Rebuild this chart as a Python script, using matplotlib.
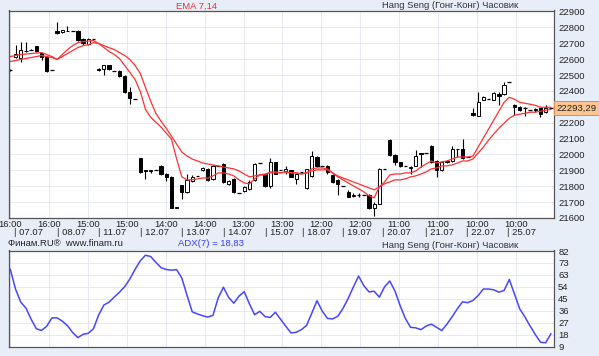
import numpy as np
import matplotlib.pyplot as plt

plt.rcParams['font.family'] = ['Liberation Sans', 'DejaVu Sans']

# hourly candles, Hang Seng 06.07 - 25.07
opens = [22530, 22615, 22610, 22652, 22660, 22680, 22640, 22615, 22530,
         22775, 22770, 22780, 22775, 22780, 22725, 22695, 22727,
         22540, 22535, 22560, 22525, 22525, 22495, 22390, 22348,
         21975, 21900, 21898, 21900, 21925, 21880, 21860, 21663,
         21805, 21765, 21830, 21867, 21900, 21910, 21845, 21925,
         21940, 21815, 21845, 21758, 21770, 21780, 21840, 21945,
         21875, 21800, 21950, 21900, 21895, 21900, 21845, 21890,
         21790, 21867, 21986, 21926, 21926, 21873, 21840, 21800,
         21765, 21740, 21742, 21742, 21745, 21665, 21690, 21910,
         22090, 21995, 21950, 21930, 21915, 21930, 22010, 22010,
         22055, 21960, 21900, 21950, 21960, 22035, 22035, 21982,
         22260, 22245, 22345, 22352, 22345, 22380, 22380, 22455,
         22310, 22300, 22290, 22280, 22285, 22290, 22265, 22293.29]
highs = [22535, 22690, 22705, 22705, 22662, 22685, 22645, 22620, 22530,
         22835, 22785, 22810, 22775, 22785, 22735, 22735, 22727,
         22545, 22565, 22565, 22525, 22530, 22500, 22422, 22348,
         21980, 21902, 21905, 21900, 21935, 21885, 21865, 21670,
         21810, 21875, 21870, 21867, 21920, 21915, 21935, 21925,
         21945, 21840, 21850, 21758, 21800, 21840, 21945, 21945,
         21880, 21975, 21955, 21900, 21925, 21905, 21880, 21890,
         21910, 22023, 21990, 21926, 21935, 21878, 21845, 21800,
         21775, 21755, 21755, 21742, 21750, 21700, 21915, 21910,
         22098, 22000, 21955, 21930, 21925, 22025, 22012, 22010,
         22060, 21965, 21960, 21962, 22055, 22036, 22095, 21982,
         22290, 22390, 22365, 22352, 22390, 22390, 22455, 22455,
         22320, 22305, 22300, 22280, 22290, 22295, 22310, 22293.29]
lows = [22525, 22605, 22580, 22645, 22658, 22645, 22595, 22520, 22530,
        22760, 22765, 22775, 22775, 22715, 22690, 22690, 22727,
        22525, 22500, 22530, 22525, 22490, 22385, 22315, 22348,
        21885, 21845, 21885, 21900, 21870, 21830, 21660, 21660,
        21720, 21760, 21825, 21867, 21895, 21835, 21840, 21925,
        21820, 21810, 21760, 21758, 21765, 21775, 21835, 21945,
        21795, 21790, 21875, 21900, 21880, 21855, 21815, 21890,
        21785, 21860, 21920, 21926, 21880, 21820, 21742, 21800,
        21730, 21730, 21735, 21742, 21655, 21615, 21685, 21910,
        21990, 21935, 21920, 21930, 21875, 21925, 21920, 22010,
        21945, 21860, 21895, 21945, 21955, 21985, 21970, 21982,
        22240, 22240, 22340, 22352, 22340, 22310, 22375, 22455,
        22250, 22275, 22245, 22280, 22265, 22235, 22260, 22293.29]
closes = [22530, 22630, 22660, 22648, 22660, 22648, 22615, 22525, 22530,
          22765, 22782, 22778, 22775, 22720, 22700, 22725, 22727,
          22530, 22560, 22535, 22525, 22495, 22390, 22358, 22348,
          21890, 21895, 21900, 21900, 21875, 21860, 21665, 21668,
          21765, 21840, 21855, 21867, 21915, 21840, 21930, 21925,
          21825, 21835, 21765, 21758, 21795, 21825, 21940, 21945,
          21800, 21955, 21880, 21900, 21910, 21860, 21875, 21890,
          21908, 21992, 21926, 21926, 21888, 21826, 21815, 21800,
          21735, 21742, 21742, 21742, 21660, 21690, 21910, 21910,
          21995, 21950, 21930, 21930, 21920, 21990, 22005, 22010,
          21950, 21900, 21950, 21958, 22035, 22033, 21975, 21982,
          22250, 22330, 22360, 22352, 22385, 22370, 22440, 22455,
          22300, 22280, 22290, 22280, 22280, 22255, 22295, 22293.29]

ema_fast = [22616, 22623, 22629, 22632, 22635, 22638, 22641, 22629, 22616,
            22598, 22629, 22660, 22685, 22704, 22710, 22713, 22717,
            22698, 22673, 22648, 22629, 22604, 22560, 22516, 22472,
            22397, 22284, 22234, 22203, 22172, 22134, 22097, 21971,
            21859, 21840, 21840, 21846, 21852, 21852, 21865, 21884,
            21884, 21877, 21865, 21840, 21821, 21815, 21846, 21871,
            21871, 21890, 21890, 21884, 21890, 21884, 21884, 21877,
            21884, 21909, 21915, 21915, 21909, 21884, 21859, 21840,
            21821, 21802, 21784, 21765, 21740, 21727, 21796, 21827,
            21871, 21877, 21877, 21884, 21884, 21896, 21921, 21940,
            21959, 21946, 21953, 21959, 21971, 21984, 21984, 21984,
            21990, 22046, 22103, 22159, 22216, 22272, 22328, 22360,
            22347, 22328, 22322, 22316, 22309, 22297, 22297, 22297]
ema_slow = [22585, 22591, 22598, 22604, 22610, 22616, 22623, 22616, 22610,
            22598, 22616, 22635, 22654, 22673, 22685, 22691, 22704,
            22698, 22685, 22672, 22660, 22641, 22623, 22598, 22560,
            22510, 22422, 22335, 22259, 22209, 22165, 22115, 22065,
            22015, 21990, 21971, 21959, 21946, 21940, 21934, 21928,
            21921, 21915, 21909, 21896, 21877, 21859, 21865, 21871,
            21877, 21884, 21884, 21884, 21890, 21884, 21884, 21877,
            21884, 21896, 21903, 21903, 21903, 21884, 21865, 21852,
            21840, 21827, 21815, 21802, 21790, 21777, 21796, 21815,
            21827, 21840, 21840, 21846, 21859, 21865, 21877, 21890,
            21909, 21915, 21928, 21928, 21934, 21946, 21959, 21959,
            21971, 22009, 22046, 22090, 22128, 22165, 22197, 22228,
            22247, 22253, 22259, 22266, 22266, 22272, 22278, 22284]

adx = [68, 53, 43.1, 38.5, 30, 22.7, 21.4, 24.6, 31,
       31, 28.5, 25, 19.8, 15.9, 18.5, 19.2, 22.7,
       33.3, 40.8, 43, 46.9, 50.6, 54.8, 60.7, 68,
       74.5, 78.8, 77.8, 73.4, 69.3, 67.9, 67.4, 67.8,
       61.3, 48.2, 35.6, 34, 32.6, 31.6, 33, 46.3,
       54.4, 46.6, 42.2, 47.6, 51, 41.7, 33.4, 36,
       32, 31.3, 35.3, 29.9, 24.6, 19.5, 20, 22,
       25.3, 34.6, 44.1, 36.2, 30.6, 30.2, 32.2, 38.2,
       45.8, 54.6, 62.9, 55.7, 50.8, 51.3, 46.8, 54.7,
       59.1, 51.5, 40.3, 30.5, 23.8, 23.4, 22, 24.7,
       26.2, 23.8, 21.3, 26.2, 31.8, 37.9, 43.2, 42.6,
       44.3, 48, 53, 53, 52.4, 50.6, 51.9, 60.3,
       49.2, 37.9, 31.7, 24.8, 18.3, 12.4, 12, 18.83]

time_labels = ['16:00', '16:00', '15:00', '15:00', '14:00', '14:00', '13:00',
               '13:00', '12:00', '12:00', '11:00', '11:00', '10:00', '10:00']
day_labels = ['07.07', '08.07', '11.07', '12.07', '13.07', '14.07', '15.07',
              '18.07', '19.07', '20.07', '21.07', '22.07', '25.07']
day_start = [0.8, 8.9, 16.9, 25.0, 32.9, 41.0, 49.0, 56.1, 63.8, 71.6, 79.8, 87.6, 95.5]
price_ticks = list(range(21600, 22901, 100))
adx_labels = ['9', '18', '27', '36', '45', '54', '63', '73', '82']

W, H = 599, 356
BG = '#e8eef8'
GRID = '#dfe5f1'
fs = 6.8

o = np.array(opens); h = np.array(highs); l = np.array(lows); c = np.array(closes)
x = np.arange(len(c))
time_pos = np.arange(len(time_labels)) * 7.48

fig = plt.figure(figsize=(W / 100, H / 100), dpi=100, facecolor=BG)


def frac(px, py, w, hgt):
    return [px / W, 1 - (py + hgt) / H, w / W, hgt / H]


ax = fig.add_axes(frac(8.5, 10.5, 545.5, 207.5))
ax2 = fig.add_axes(frac(8.5, 250.5, 545.5, 96.2))

for a in (ax, ax2):
    a.set_xlim(-0.35, 104.6)
    a.set_facecolor('white')
    a.set_xticks(time_pos)
    a.grid(True, color=GRID, lw=0.6)
    a.set_axisbelow(True)
    a.yaxis.tick_right()
    a.tick_params(length=0, labelsize=fs, colors='#222222', pad=3)
    for s in a.spines.values():
        s.set_color('#555555')
        s.set_linewidth(0.9)

# candles
up = c > o
dn = c < o
flat = c == o
ax.vlines(x, l, h, color='black', lw=0.8, zorder=2)
ax.bar(x[up], (c - o)[up], bottom=o[up], width=0.62, facecolor='white',
       edgecolor='black', lw=0.7, zorder=2.5)
ax.bar(x[dn], (o - c)[dn], bottom=c[dn], width=0.62, facecolor='black',
       edgecolor='black', lw=0.7, zorder=2.5)
ax.hlines(c[flat], x[flat] - 0.35, x[flat] + 0.35, color='black', lw=0.9, zorder=2.5)

ax.plot(x, ema_slow, color='#ff3030', lw=0.9, zorder=3)
ax.plot(x, ema_fast, color='#ff3030', lw=0.9, zorder=3)

ax.set_ylim(21600, 22906)
ax.set_yticks(price_ticks)
# the last-price tag covers the 22300 label
ax.set_yticklabels(['' if p == 22300 else str(p) for p in price_ticks])
ax.set_xticklabels(time_labels)
ax.tick_params(axis='x', pad=1.5)

for d, lbl in zip(day_start, day_labels):
    ax.text(d, -0.072, '| ' + lbl, transform=ax.get_xaxis_transform(),
            ha='left', va='center', fontsize=fs, color='#222222')

ax.text(1.004, closes[-1], '22293,29', transform=ax.get_yaxis_transform(),
        ha='left', va='center', fontsize=fs, color='#222222', zorder=5,
        bbox=dict(boxstyle='square,pad=0.25', fc='#fcc592', ec='#e08a4a', lw=0.7),
        clip_on=False)

# ADX panel
ax2.plot(x, adx, color='#4646ff', lw=1.1)
ax2.set_ylim(9, 82.4)
ax2.set_yticks(9 + np.arange(len(adx_labels)) * 9.125)
ax2.set_yticklabels(adx_labels)
ax2.set_xticklabels([])

# titles
fig.text(197 / W, 1 - 6 / H, 'EMA 7,14', ha='center', va='center',
         fontsize=fs, color='#e83030')
fig.text(450 / W, 1 - 6 / H, 'Hang Seng (Гонг-Конг) Часовик', ha='center',
         va='center', fontsize=fs, color='#333333')
fig.text(8 / W, 1 - 244 / H, 'Финам.RU®  www.finam.ru', ha='left', va='center',
         fontsize=fs, color='#222222')
fig.text(178 / W, 1 - 244 / H, 'ADX(7) = 18,83', ha='left', va='center',
         fontsize=fs, color='#3a3aff')
fig.text(450 / W, 1 - 245 / H, 'Hang Seng (Гонг-Конг) Часовик', ha='center',
         va='center', fontsize=fs, color='#333333')

fig.savefig('out.png', dpi=100, facecolor=BG)
